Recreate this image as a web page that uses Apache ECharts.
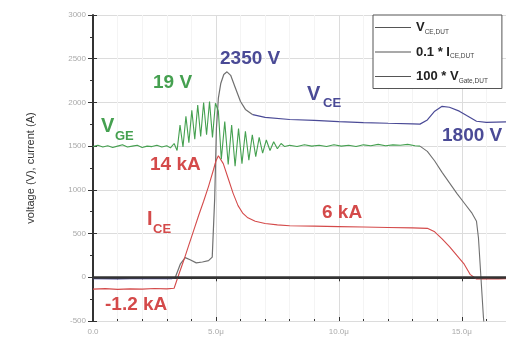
<!DOCTYPE html>
<html>
<meta charset="UTF-8">
<title>igbt-switching</title>
<style type="text/css">
    html,
    body {
        margin: 0px;
        background: #fff;
    }

    #chart {
        width: 506px;
        height: 338px;
    }
</style>
<script src="https://cdn.jsdelivr.net/npm/echarts@6/dist/echarts.min.js"></script>

<body>
    <div id="chart"></div>
    <script>
        // time in microseconds
        const xTicks = [0, 5, 10, 15];
        const yTicks = [-500, 0, 500, 1000, 1500, 2000, 2500, 3000];

        // V_CE,DUT (V)
        const vceTime = [0, 1, 2, 3, 3.2, 3.35, 3.55, 3.75, 3.95, 4.2, 4.45, 4.7, 4.85, 4.95, 5.02, 5.1, 5.2, 5.32, 5.45, 5.6, 5.8, 6.0, 6.2, 6.5, 7.0, 8.0, 9.0, 10.0, 11.0, 12.0, 13.0, 13.3, 13.6, 13.9, 14.2, 14.5, 14.9, 15.2, 15.6, 16.0, 16.8];
        const vceVolt = [-15, -18, -14, -16, -15, 0, 150, 225, 200, 165, 175, 190, 230, 900, 1700, 2050, 2220, 2320, 2350, 2310, 2160, 2010, 1920, 1860, 1830, 1805, 1795, 1780, 1770, 1762, 1755, 1752, 1800, 1900, 1955, 1945, 1900, 1850, 1785, 1772, 1778];

        // 0.1 * I_CE,DUT (A)
        const iceTime = [0, 0.5, 1, 1.5, 2, 2.5, 3, 3.3, 3.5, 3.7, 3.9, 4.1, 4.3, 4.5, 4.7, 4.9, 5.0, 5.1, 5.3, 5.5, 5.7, 5.9, 6.1, 6.3, 6.6, 7.0, 7.5, 8, 9, 10, 11, 12, 13, 13.6, 13.9, 14.2, 14.5, 14.8, 15.1, 15.35, 15.6, 16, 16.5, 16.8];
        const iceAmp = [-135, -130, -138, -132, -135, -128, -133, -125, 40, 200, 370, 540, 710, 870, 1040, 1230, 1330, 1390, 1300, 1130, 960, 820, 730, 680, 640, 615, 600, 590, 585, 580, 575, 570, 565, 560, 520, 440, 350, 250, 150, 30, -20, -15, -20, -15];

        // 100 * V_Gate,DUT (V)
        const vgeTime = [0, 0.2, 0.4, 0.6, 0.8, 1.0, 1.2, 1.4, 1.6, 1.8, 2.0, 2.2, 2.4, 2.6, 2.8, 3.0, 3.15, 3.3,
            3.42, 3.54, 3.66, 3.78, 3.9, 4.02, 4.14, 4.26, 4.38, 4.5, 4.62, 4.74, 4.86, 4.98, 5.1,
            5.22, 5.36, 5.5, 5.64, 5.78, 5.92, 6.06, 6.2, 6.34, 6.48, 6.62, 6.76, 6.9, 7.05, 7.2, 7.35, 7.5, 7.65, 7.8,
            8.0, 8.3, 8.6, 8.9, 9.2, 9.5, 9.8, 10.1, 10.4, 10.7, 11.0, 11.3, 11.6, 11.9, 12.2, 12.5, 12.8, 13.1, 13.3,
            13.6, 13.9, 14.2, 14.5, 14.8, 15.1, 15.4, 15.6, 15.68, 15.78, 15.88, 15.95];
        const vgeVolt = [1495, 1510, 1490, 1505, 1485, 1500, 1515, 1490, 1500, 1510, 1485, 1500, 1495, 1510, 1490, 1505, 1480, 1530,
            1450, 1740, 1490, 1840, 1540, 1910, 1580, 1970, 1610, 2000, 1630, 2010, 1600, 1990, 1900,
            1350, 1780, 1290, 1740, 1270, 1700, 1300, 1670, 1340, 1630, 1380, 1600, 1420, 1570, 1450, 1550, 1470, 1530, 1495,
            1510, 1495, 1515, 1500, 1510, 1495, 1515, 1500, 1510, 1495, 1515, 1505, 1520, 1505, 1515, 1510, 1520, 1505, 1500,
            1440, 1330, 1200, 1080, 960, 850, 740, 640, 450, 0, -450, -700];

        // where the trace colour turns grey in the scope picture
        const vceGrey = [3.35, 6.5];
        const vgeGrey = 13.3;

        const zip = (t, v) => t.map((x, i) => [x, v[i]]);
        const part = (t, v, a, b) => zip(t, v).filter(p => p[0] >= a && p[0] <= b);

        const legendNames = {
            vce: '{b|V}{s|CE,DUT}',
            ice: '{b|0.1 * I}{s|CE,DUT}',
            vge: '{b|100 * V}{s|Gate,DUT}'
        };

        const font = 'Liberation Sans, Arial, sans-serif';
        const blue = '#4a4a96';
        const green = '#45a050';
        const red = '#d44a4a';
        const gray = '#707070';

        function label(text, x, y, color, size) {
            return {
                type: 'text', x: x, y: y, z: 100,
                style: {
                    text: text, fill: color, verticalAlign: 'middle',
                    font: 'bold ' + size + 'px ' + font
                }
            };
        }

        function trace(name, data, color, width) {
            return {
                name: name, type: 'line', showSymbol: false, z: 3,
                lineStyle: { width: width, color: color },
                itemStyle: { color: color },
                data: data
            };
        }

        const chart = echarts.init(document.getElementById('chart'));

        const xBase = {
            type: 'value', min: 0, max: 16.8, interval: 5,
            gridIndex: 0
        };

        const options = {
            animation: false,
            textStyle: { fontFamily: font },
            grid: { left: 93, right: 0, top: 15, bottom: 17 },
            legend: {
                orient: 'vertical',
                left: 373,
                top: 15,
                padding: [6, 14, 4, 2],
                itemGap: 10,
                itemWidth: 36,
                itemHeight: 1,
                icon: 'rect',
                borderColor: '#555',
                borderWidth: 1,
                backgroundColor: '#fff',
                data: [
                    { name: 'vce', itemStyle: { color: '#555' } },
                    { name: 'ice', itemStyle: { color: '#555' } },
                    { name: 'vge', itemStyle: { color: '#555' } }
                ],
                formatter: name => legendNames[name],
                textStyle: {
                    rich: {
                        b: { fontSize: 13, color: '#222', fontWeight: 'bold', fontFamily: font },
                        s: { fontSize: 6.5, color: '#444', padding: [9, 0, 0, 0], fontFamily: font }
                    }
                }
            },
            xAxis: [
                Object.assign({}, xBase, {
                    position: 'bottom',
                    axisLine: { lineStyle: { color: '#333', width: 2 } },
                    axisTick: { length: 4, lineStyle: { color: '#333' } },
                    minorTick: { show: true, splitNumber: 5, length: 2, lineStyle: { color: '#333' } },
                    splitLine: { lineStyle: { color: '#dcdcdc' } },
                    minorSplitLine: { show: true, lineStyle: { color: '#f4f4f4' } },
                    axisLabel: {
                        showMaxLabel: false, fontSize: 8, color: '#aaa', margin: 7,
                        formatter: v => xTicks.includes(v) ? (v === 0 ? '0.0' : v.toFixed(1) + 'μ') : ''
                    }
                }),
                Object.assign({}, xBase, {
                    position: 'top',
                    axisLine: { lineStyle: { color: '#333', width: 2 } },
                    axisTick: { show: false },
                    axisLabel: { show: false },
                    splitLine: { show: false }
                }),
                Object.assign({}, xBase, {
                    position: 'bottom',
                    axisLine: { show: false },
                    axisTick: { inside: true, length: 4, lineStyle: { color: '#333' } },
                    minorTick: { show: true, splitNumber: 5, length: 2, lineStyle: { color: '#333' } },
                    axisLabel: { show: false },
                    splitLine: { show: false }
                })
            ],
            yAxis: [
                {
                    type: 'value', min: yTicks[0], max: yTicks[yTicks.length - 1], interval: 500,
                    name: 'voltage (V), current (A)',
                    nameLocation: 'middle',
                    nameGap: 57,
                    nameTextStyle: { fontSize: 11, color: '#333' },
                    axisLine: { lineStyle: { color: '#333', width: 2 } },
                    axisTick: { length: 5, lineStyle: { color: '#333' } },
                    minorTick: { show: true, splitNumber: 2, length: 3, lineStyle: { color: '#333' } },
                    splitLine: { lineStyle: { color: '#dcdcdc' } },
                    axisLabel: { fontSize: 8, color: '#aaa', margin: 7, formatter: v => String(v) }
                },
                {
                    type: 'value', min: yTicks[0], max: yTicks[yTicks.length - 1], interval: 500,
                    position: 'left',
                    axisLine: { show: false },
                    axisTick: { inside: true, length: 4, lineStyle: { color: '#333' } },
                    axisLabel: { show: false },
                    splitLine: { show: false }
                }
            ],
            series: [
                {
                    name: 'zero', type: 'line', data: [[0, 0]], showSymbol: false, z: 1,
                    lineStyle: { opacity: 0 },
                    markLine: {
                        silent: true, symbol: 'none', label: { show: false },
                        lineStyle: { color: '#333', width: 2.5, type: 'solid' },
                        data: [{ yAxis: 0 }]
                    }
                },
                trace('vce', part(vceTime, vceVolt, 0, vceGrey[0]), blue, 1.2),
                trace('vce', part(vceTime, vceVolt, vceGrey[0], vceGrey[1]), gray, 1.2),
                trace('vce', part(vceTime, vceVolt, vceGrey[1], 99), blue, 1.2),
                trace('ice', zip(iceTime, iceAmp), red, 1.1),
                trace('vge', part(vgeTime, vgeVolt, 0, vgeGrey), green, 1.1),
                trace('vge', part(vgeTime, vgeVolt, vgeGrey, 99), gray, 1.1)
            ],
            graphic: [
                label('2350 V', 220, 59, blue, 19),
                label('V', 307, 94, blue, 20),
                label('CE', 323, 103, blue, 13),
                label('1800 V', 442, 136, blue, 19),
                label('19 V', 153, 83, green, 19),
                label('V', 101, 126, green, 20),
                label('GE', 115, 136, green, 13),
                label('14 kA', 150, 165, red, 19),
                label('I', 147, 219, red, 20),
                label('CE', 153, 229, red, 13),
                label('6 kA', 322, 213, red, 19),
                label('-1.2 kA', 105, 305, red, 19)
            ]
        };
        chart.setOption(options);
    </script>
</body>

</html>
